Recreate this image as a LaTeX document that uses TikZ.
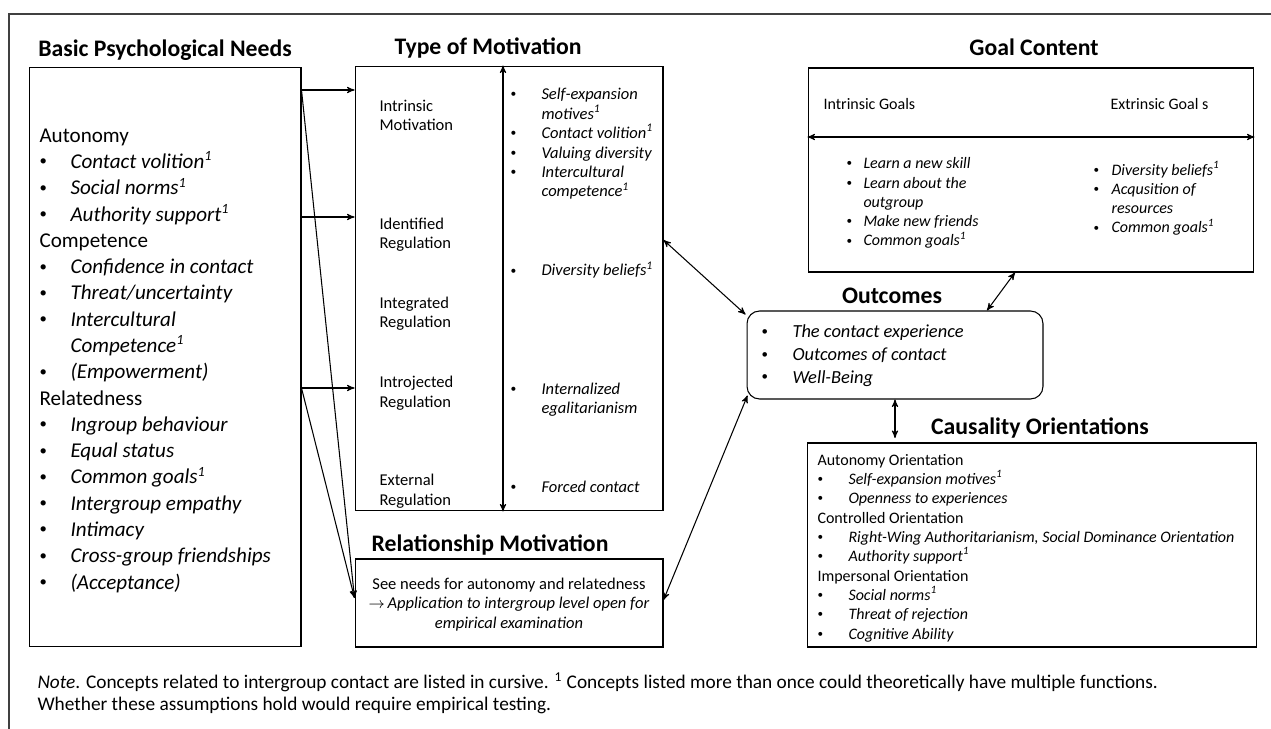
\documentclass[tikz,border=0pt]{standalone}
\usepackage{fontspec}
\setmainfont{Carlito}
\usetikzlibrary{arrows,positioning}
\tikzstyle{box} = [rectangle, draw, inner sep=0pt]
\tikzstyle{head} = [font=\fontsize{13.5}{16}\selectfont\bfseries, inner sep=0pt, anchor=base]
\tikzstyle{txt} = [inner sep=0pt, anchor=base west, align=left]
\newcommand{\fneeds}{\fontsize{12}{14.96}\selectfont}
\newcommand{\fmot}{\fontsize{9.4}{11.06}\selectfont}
\newcommand{\fsmall}{\fontsize{9.1}{11}\selectfont}
\newcommand{\fout}{\fontsize{10.5}{12.9}\selectfont}
\newcommand{\bl}[1][0.62cm]{\makebox[#1][l]{\raisebox{0.12em}{\scalebox{0.7}{\textbullet}}}}
\newcommand{\hang}[1][0.62cm]{\hspace*{#1}}
\newcommand{\one}{\textsuperscript{1}}

\begin{document}
\begin{tikzpicture}[x=0.02cm,y=-0.02cm,>=stealth',semithick]
  \useasboundingbox (0,0) rectangle (1271,729);
  \draw[black!75,thick] (9,729) -- (9,14) -- (1271,14);

  % headings
  \node[head] (hneeds) at (165,57) {Basic Psychological Needs};
  \node[head] (hmot)   at (488,55) {Type of Motivation};
  \node[head] (hrel)   at (490,551) {Relationship Motivation};
  \node[head] (hgoal)  at (1034,56) {Goal Content};
  \node[head] (hout)   at (892,304) {Outcomes};
  \node[head] (hcaus)  at (1040,435) {Causality Orientations};

  % boxes
  \node[box,minimum width=5.44cm,minimum height=11.6cm] (needs) at (165,357) {};
  \node[box,minimum width=6.16cm,minimum height=8.9cm]  (motiv) at (509,288.5) {};
  \node[box,minimum width=6.16cm,minimum height=1.76cm] (rel)   at (509,603) {};
  \node[box,minimum width=8.92cm,minimum height=4.08cm] (goal)  at (1031,170) {};
  \node[box,rounded corners=0.25cm,minimum width=5.92cm,minimum height=1.76cm] (outc) at (895,355) {};
  \node[box,minimum width=9cm,minimum height=4.08cm]    (caus)  at (1032,545) {};

  % basic needs (placed by the baseline of the last line)
  \node[txt,font=\fneeds] (needstxt) at (39,589) {Autonomy\\
    \bl\textit{Contact volition\one}\\
    \bl\textit{Social norms\one}\\
    \bl\textit{Authority support\one}\\
    Competence\\
    \bl\textit{Confidence in contact}\\
    \bl\textit{Threat/uncertainty}\\
    \bl\textit{Intercultural}\\
    \hang\textit{Competence\one}\\
    \bl\textit{(Empowerment)}\\
    Relatedness\\
    \bl\textit{Ingroup behaviour}\\
    \bl\textit{Equal status}\\
    \bl\textit{Common goals\one}\\
    \bl\textit{Intergroup empathy}\\
    \bl\textit{Intimacy}\\
    \bl\textit{Cross-group friendships}\\
    \bl\textit{(Acceptance)}};

  % type of motivation
  \node[txt,font=\fmot] (intr) at (379,131) {Intrinsic\\Motivation};
  \node[txt,font=\fmot] (iden) at (379,249) {Identified\\Regulation};
  \node[txt,font=\fmot] (integ) at (379,328) {Integrated\\Regulation};
  \node[txt,font=\fmot] (intro) at (379,407) {Introjected\\Regulation};
  \node[txt,font=\fmot] (extr) at (379,505) {External\\Regulation};
  \node[txt,font=\fmot] (intrlist) at (510,197) {\bl\textit{Self-expansion}\\
    \hang\textit{motives\one}\\
    \bl\textit{Contact volition\one}\\
    \bl\textit{Valuing diversity}\\
    \bl\textit{Intercultural}\\
    \hang\textit{competence\one}};
  \node[txt,font=\fmot] (idenlist) at (510,276) {\bl\textit{Diversity beliefs\one}};
  \node[txt,font=\fmot] (introlist) at (510,414) {\bl\textit{Internalized}\\
    \hang\textit{egalitarianism}};
  \node[txt,font=\fmot] (extrlist) at (510,492) {\bl\textit{Forced contact}};

  % relationship motivation
  \node[inner sep=0pt,anchor=base,align=center,font=\fmot] (reltxt) at (509,628)
    {See needs for autonomy and relatedness\\
     $\rightarrow$\,\textit{Application to intergroup level open for}\\
     \textit{empirical examination}};

  % goal content
  \node[txt,font=\fsmall] (igoal) at (823,110) {Intrinsic Goals};
  \node[txt,font=\fsmall] (egoal) at (1110,110) {Extrinsic Goal s};
  \node[txt,font=\fsmall] (igoallist) at (846,246) {\bl[0.34cm]\textit{Learn a new skill}\\
    \bl[0.34cm]\textit{Learn about the}\\
    \hang[0.34cm]\textit{outgroup}\\
    \bl[0.34cm]\textit{Make new friends}\\
    \bl[0.34cm]\textit{Common goals\one}};
  \node[txt,font=\fsmall] (egoallist) at (1093,233) {\bl[0.36cm]\textit{Diversity beliefs\one}\\
    \bl[0.36cm]\textit{Acqusition of}\\
    \hang[0.36cm]\textit{resources}\\
    \bl[0.36cm]\textit{Common goals\one}};

  % outcomes
  \node[txt,font=\fout] (outtxt) at (761,383) {\bl[0.62cm]\textit{The contact experience}\\
    \bl[0.62cm]\textit{Outcomes of contact}\\
    \bl[0.62cm]\textit{Well-Being}};

  % causality orientations
  \node[txt,font=\fsmall] (caustxt) at (817,639) {Autonomy Orientation\\
    \bl\textit{Self-expansion motives\one}\\
    \bl\textit{Openness to experiences}\\
    Controlled Orientation\\
    \bl\textit{Right-Wing Authoritarianism, Social Dominance Orientation}\\
    \bl\textit{Authority support\one}\\
    Impersonal Orientation\\
    \bl\textit{Social norms\one}\\
    \bl\textit{Threat of rejection}\\
    \bl\textit{Cognitive Ability}};

  % note
  \node[txt,font=\fontsize{11}{12}\selectfont] (note) at (37,710)
    {\textit{Note}. Concepts related to intergroup contact are listed in cursive. \textsuperscript{1} Concepts listed more than once could theoretically have multiple functions.\\
     Whether these assumptions hold would require empirical testing.};

  % connectors
  \draw[->] (needs.east |- 0,90) -- (motiv.west |- 0,90);
  \draw[->] (needs.east |- 0,217) -- (motiv.west |- 0,217);
  \draw[->] (needs.east |- 0,388) -- (motiv.west |- 0,388);
  \draw[->] (needs.east |- 0,90) -- (rel.west |- 0,598);
  \draw[->] (needs.east |- 0,388) -- (rel.west |- 0,598);
  \draw[<->] (motiv.north -| 503,0) -- (motiv.south -| 503,0);
  \draw[<->] (goal.west |- 0,137) -- (goal.east |- 0,137);
  \draw[<->] (motiv.east |- 0,240) -- ([shift={(-1,4)}]outc.north west);
  \draw[<->] (rel.east |- 0,600) -- ([shift={(1,-4)}]outc.south west);
  \draw[<->] (goal.south -| 1015,0) -- (outc.north -| 987,0);
  \draw[<->] (outc.south) -- (outc.south |- 0,438);
\end{tikzpicture}
\end{document}
